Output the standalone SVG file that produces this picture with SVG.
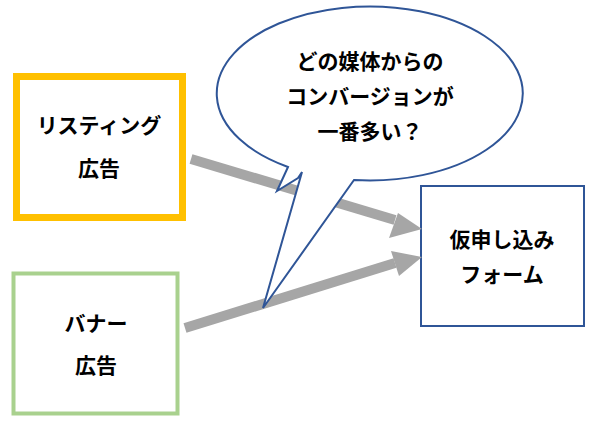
<svg xmlns="http://www.w3.org/2000/svg" width="602" height="440" viewBox="0 0 602 440">
<style>
text{font-family:"Noto Sans CJK JP",sans-serif;font-weight:bold;font-size:21px;fill:#000;text-anchor:middle}
.ar{stroke:#A6A6A6;stroke-width:10;fill:none}
.hd{fill:#A6A6A6}
</style>
<rect width="602" height="440" fill="#fff"/>
<g id="listing"><rect x="16.5" y="76.5" width="166" height="141" fill="#fff" stroke="#FFC000" stroke-width="7"/><text x="99" y="133">リスティング</text><text x="99" y="176">広告</text></g>
<g id="banner"><rect x="13.5" y="273.5" width="164" height="140" fill="#fff" stroke="#A9D18E" stroke-width="4"/><text x="96" y="331">バナー</text><text x="96" y="373">広告</text></g>
<g id="form"><rect x="421" y="186" width="163" height="140" fill="#fff" stroke="#2F5597" stroke-width="2"/><text x="502" y="247">仮申し込み</text><text x="502" y="282">フォーム</text></g>
<g id="connectors">
<line class="ar" x1="191" y1="159" x2="395" y2="220"/>
<polygon class="hd" points="422,229 389,238 398,213"/>
<line class="ar" x1="185" y1="328" x2="395" y2="263"/>
<polygon class="hd" points="422,257 399,276 391,251"/>
</g>
<g id="callout">
<path d="M302,172 L263,308 L354,180 A153 87 0 1 0 288,167 L277,191 L298,178 Z" fill="#fff" stroke="#2F5597" stroke-width="2" stroke-linejoin="miter"/>
<text x="370" y="69">どの媒体からの</text><text x="370" y="104">コンバージョンが</text><text x="370" y="139">一番多い？</text>
</g>
</svg>
